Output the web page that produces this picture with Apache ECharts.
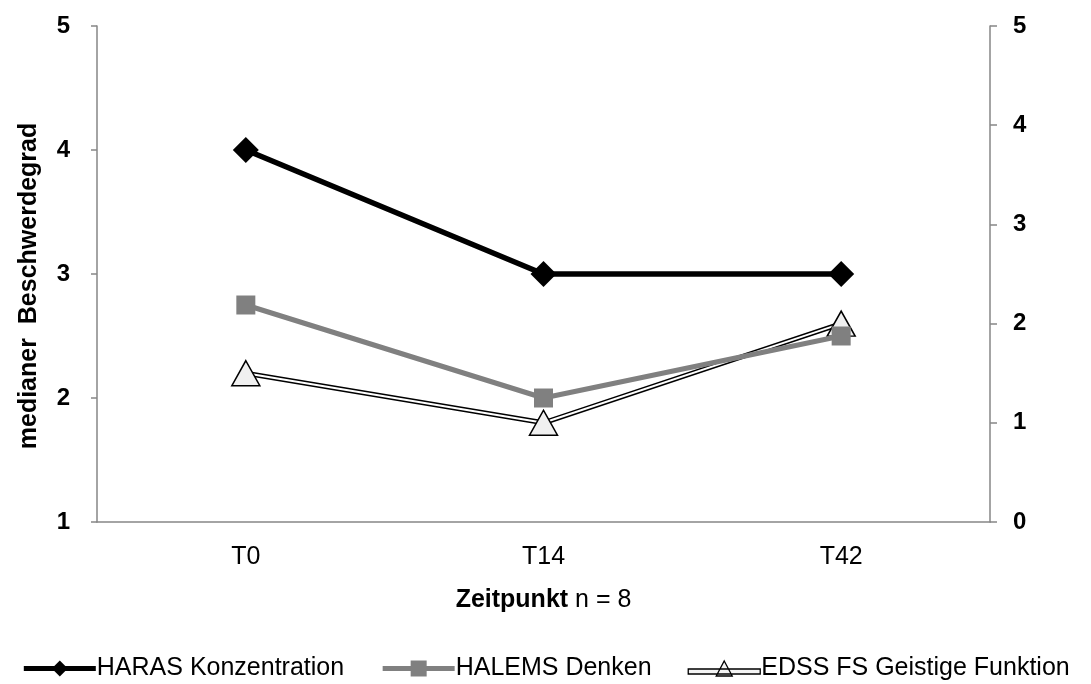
<!DOCTYPE html>
<html>
<head>
<meta charset="utf-8">
<script src="https://cdn.jsdelivr.net/npm/echarts@6/dist/echarts.min.js"></script>
<style>
html,body{margin:0;padding:0;background:#fff;}
#chart{width:1091px;height:684px;}
</style>
</head>
<body>
<div id="chart"></div>
<script>
var categories = ['T0', 'T14', 'T42'];
var harasValues = [4, 3, 3];
var halemsValues = [2.75, 2, 2.5];
var edssValues = [1.5, 1, 2];
var leftTicks = [1, 5];
var rightTicks = [0, 5];
var seriesNames = ['HARAS Konzentration', 'HALEMS Denken', 'EDSS FS Geistige Funktion'];

var FONT = 'Liberation Sans, Arial, sans-serif';
var axisGray = '#868686';

var chart = echarts.init(document.getElementById('chart'), null, {renderer: 'canvas'});
chart.setOption({
  animation: false,
  backgroundColor: '#ffffff',
  grid: {left: 97, right: 101, top: 26, bottom: 162, containLabel: false},
  legend: {
    top: 651,
    left: 'center',
    itemWidth: 72,
    itemHeight: 20,
    itemGap: 36,
    textStyle: {fontFamily: FONT, fontSize: 25, color: '#000', padding: [0, 0, 0, -4]},
    data: [
      {name: seriesNames[0], lineStyle: {width: 5, color: '#000'}},
      {name: seriesNames[1], lineStyle: {width: 5, color: '#808080'}},
      {name: seriesNames[2], icon: 'path://M0,8 L72,8 L72,13 L0,13 Z M36,0 L44,15 L28,15 Z',
       itemStyle: {color: '#f4f4f4', borderColor: '#000', borderWidth: 1.3}}
    ]
  },
  xAxis: {
    type: 'category',
    data: categories,
    boundaryGap: true,
    axisLine: {lineStyle: {color: axisGray, width: 1.5}},
    axisTick: {show: false},
    axisLabel: {fontFamily: FONT, fontSize: 25, color: '#000', margin: 23},
    name: '{b|Zeitpunkt}{n| n = 8}',
    nameLocation: 'middle',
    nameGap: 66,
    nameTextStyle: {
      rich: {
        b: {fontFamily: FONT, fontSize: 25, fontWeight: 'bold', color: '#000'},
        n: {fontFamily: FONT, fontSize: 25, color: '#000'}
      }
    }
  },
  yAxis: [
    {
      type: 'value',
      min: leftTicks[0],
      max: leftTicks[1],
      interval: 1,
      position: 'left',
      splitLine: {show: false},
      axisLine: {show: true, lineStyle: {color: axisGray, width: 1.5}},
      axisTick: {show: true, length: 6, lineStyle: {color: axisGray, width: 1.5}},
      axisLabel: {fontFamily: FONT, fontSize: 24, fontWeight: 'bold', color: '#000', margin: 27},
      name: 'medianer  Beschwerdegrad',
      nameLocation: 'middle',
      nameGap: 55,
      nameTextStyle: {fontFamily: FONT, fontSize: 25, fontWeight: 'bold', color: '#000', padding: [0, 24, 0, 0]}
    },
    {
      type: 'value',
      min: rightTicks[0],
      max: rightTicks[1],
      interval: 1,
      position: 'right',
      splitLine: {show: false},
      axisLine: {show: true, lineStyle: {color: axisGray, width: 1.5}},
      axisTick: {show: true, length: 7, lineStyle: {color: axisGray, width: 1.5}},
      axisLabel: {fontFamily: FONT, fontSize: 24, fontWeight: 'bold', color: '#000', margin: 23}
    }
  ],
  series: [
    {
      name: seriesNames[0],
      type: 'line',
      data: harasValues,
      yAxisIndex: 0,
      symbol: 'diamond',
      symbolSize: [26, 26],
      z: 5,
      lineStyle: {color: '#000', width: 5.5},
      itemStyle: {color: '#000'}
    },
    {
      name: seriesNames[1],
      type: 'line',
      data: halemsValues,
      yAxisIndex: 0,
      symbol: 'rect',
      symbolSize: 19,
      z: 4,
      lineStyle: {color: '#808080', width: 5},
      itemStyle: {color: '#808080'}
    },
    {
      name: 'EDSS outline',
      type: 'line',
      data: edssValues,
      yAxisIndex: 1,
      symbol: 'none',
      z: 2,
      silent: true,
      lineStyle: {color: '#000', width: 5},
      itemStyle: {color: '#000'}
    },
    {
      name: seriesNames[2],
      type: 'line',
      data: edssValues,
      yAxisIndex: 1,
      symbol: 'triangle',
      symbolSize: [28, 25],
      z: 3,
      lineStyle: {color: '#ffffff', width: 2},
      itemStyle: {color: '#f0f0f0', borderColor: '#000', borderWidth: 1.5}
    }
  ]
});
</script>
</body>
</html>
